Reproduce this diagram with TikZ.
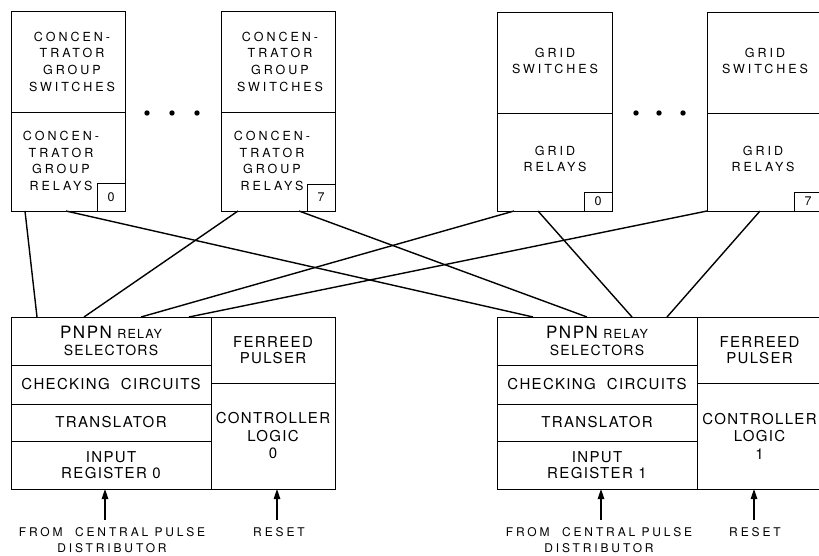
\documentclass[tikz,border=0pt]{standalone}
\usepackage{fontspec}
\setmainfont{TeX Gyre Heros}
\newfontfamily\lblfont[LetterSpace=24]{TeX Gyre Heros}
\newfontfamily\bxfont[LetterSpace=9]{TeX Gyre Heros}
\usetikzlibrary{arrows.meta}
\begin{document}
\begin{tikzpicture}[x=1pt,y=-1pt,
  blk/.style={draw, line width=0.9pt, inner sep=0pt, outer sep=0pt, anchor=north west},
  conn/.style={line width=1.4pt},
  arr/.style={line width=1.2pt, -{Triangle[length=10pt,width=6.5pt]}},
  toptext/.style={font=\lblfont\fontsize{12.5}{16.7}\selectfont, align=center, inner sep=0pt},
  numtext/.style={font=\lblfont\fontsize{12.5}{14}\selectfont},
  bottext/.style={font=\bxfont\fontsize{15}{17.5}\selectfont, align=center},
  lbltext/.style={font=\lblfont\fontsize{12}{16}\selectfont, align=center, inner sep=0pt}]
\clip (0,0) rectangle (819,556);
% ---- top boxes ----
\node[blk, minimum width=114pt, minimum height=101pt] (As) at (11,11) {};
\node[blk, minimum width=114pt, minimum height=99pt] (Ar) at (11,112) {};
\node[blk, minimum width=28pt, minimum height=28pt, numtext] (An) at (97,183) {0};
\node[toptext] (Ast) at (72,61.7) {CONCEN-\\TRATOR\\GROUP\\SWITCHES};
\node[toptext] (Art) at (61,161) {CONCEN-\\TRATOR\\GROUP\\RELAYS};

\node[blk, minimum width=114pt, minimum height=101pt] (Bs) at (221,11) {};
\node[blk, minimum width=114pt, minimum height=99pt] (Br) at (221,112) {};
\node[blk, minimum width=28pt, minimum height=27pt, numtext] (Bn) at (307,184) {7};
\node[toptext] (Bst) at (280,61.7) {CONCEN-\\TRATOR\\GROUP\\SWITCHES};
\node[toptext] (Brt) at (272,161) {CONCEN-\\TRATOR\\GROUP\\RELAYS};

\node[blk, minimum width=115pt, minimum height=101pt] (Cs) at (497,12) {};
\node[blk, minimum width=115pt, minimum height=98pt] (Cr) at (497,113) {};
\node[blk, minimum width=28pt, minimum height=19pt, numtext] (Cn) at (584,192) {0};
\node[toptext] (Cst) at (555,61) {GRID\\SWITCHES};
\node[toptext] (Crt) at (555,159) {GRID\\RELAYS};

\node[blk, minimum width=115pt, minimum height=101pt] (Ds) at (707,12) {};
\node[blk, minimum width=115pt, minimum height=98pt] (Dr) at (707,113) {};
\node[blk, minimum width=28pt, minimum height=19pt, numtext] (Dn) at (794,192) {7};
\node[toptext] (Dst) at (765,61) {GRID\\SWITCHES};
\node[toptext] (Drt) at (763,159) {GRID\\RELAYS};

% dots
\foreach \px in {147,172,197,636,659,683}
  \fill (\px,113) circle[radius=2.7pt];

% ---- bottom boxes ----
\node[blk, minimum width=200pt, minimum height=48pt, bottext] (L1) at (11,317)
  {{\fontsize{17}{18}\selectfont PNPN} {\fontsize{12.5}{18}\selectfont RELAY}\\[-1pt]{\fontsize{14}{16}\selectfont SELECTORS}};
\node[blk, minimum width=200pt, minimum height=39pt, bottext] (L2) at (11,365) {CHECKING\ \ CIRCUITS};
\node[blk, minimum width=200pt, minimum height=37pt, bottext] (L3) at (11,404) {TRANSLATOR};
\node[blk, minimum width=200pt, minimum height=48pt, bottext] (L4) at (11,441) {INPUT\\[-2pt]REGISTER 0};
\node[blk, minimum width=124pt, minimum height=66pt, bottext] (L5) at (211,317) {FERREED\\[-1pt]PULSER};
\node[blk, minimum width=124pt, minimum height=106pt, bottext] (L6) at (211,383) {CONTROLLER\\LOGIC\\0};

\node[blk, minimum width=200pt, minimum height=48pt, bottext] (R1) at (497,317)
  {{\fontsize{17}{18}\selectfont PNPN} {\fontsize{12.5}{18}\selectfont RELAY}\\[-1pt]{\fontsize{14}{16}\selectfont SELECTORS}};
\node[blk, minimum width=200pt, minimum height=39pt, bottext] (R2) at (497,365) {CHECKING\ \ CIRCUITS};
\node[blk, minimum width=200pt, minimum height=37pt, bottext] (R3) at (497,404) {TRANSLATOR};
\node[blk, minimum width=200pt, minimum height=48pt, bottext] (R4) at (497,441) {INPUT\\[-2pt]REGISTER 1};
\node[blk, minimum width=125pt, minimum height=66pt, bottext] (R5) at (697,317) {FERREED\\[-1pt]PULSER};
\node[blk, minimum width=125pt, minimum height=106pt, bottext] (R6) at (697,383) {CONTROLLER\\LOGIC\\1};

% ---- connectors ----
\draw[conn] ([xshift=14pt]Ar.south west) -- ([xshift=26pt]L1.north west);
\draw[conn] ([xshift=55pt]Ar.south west) -- ([xshift=36pt]R1.north west);
\draw[conn] ([xshift=17pt]Br.south west) -- ([xshift=73pt]L1.north west);
\draw[conn] ([xshift=78pt]Br.south west) -- ([xshift=90pt]R1.north west);
\draw[conn] ([xshift=17pt]Cr.south west) -- ([xshift=130pt]L1.north west);
\draw[conn] ([xshift=41pt]Cr.south west) -- ([xshift=135pt]R1.north west);
\draw[conn] (Dr.south west) -- ([xshift=178pt]L1.north west);
\draw[conn] ([xshift=53pt]Dr.south west) -- ([xshift=170pt]R1.north west);

% ---- inputs ----
\node[lbltext] (Lf) at (112,540.5) {FROM\ \ CENTRAL PULSE\\DISTRIBUTOR};
\node[lbltext] (Lr) at (279,532) {RESET};
\node[lbltext] (Rf) at (599,540.5) {FROM\ \ CENTRAL PULSE\\DISTRIBUTOR};
\node[lbltext] (Rr) at (755,532) {RESET};
\coordinate (Lfa) at (105,520);
\coordinate (Lra) at (277,520);
\coordinate (Rfa) at (601,520);
\coordinate (Rra) at (754,520);
\draw[arr] (Lfa) -- (Lfa |- L4.south);
\draw[arr] (Lra) -- (Lra |- L6.south);
\draw[arr] (Rfa) -- (Rfa |- R4.south);
\draw[arr] (Rra) -- (Rra |- R6.south);
\end{tikzpicture}
\end{document}
